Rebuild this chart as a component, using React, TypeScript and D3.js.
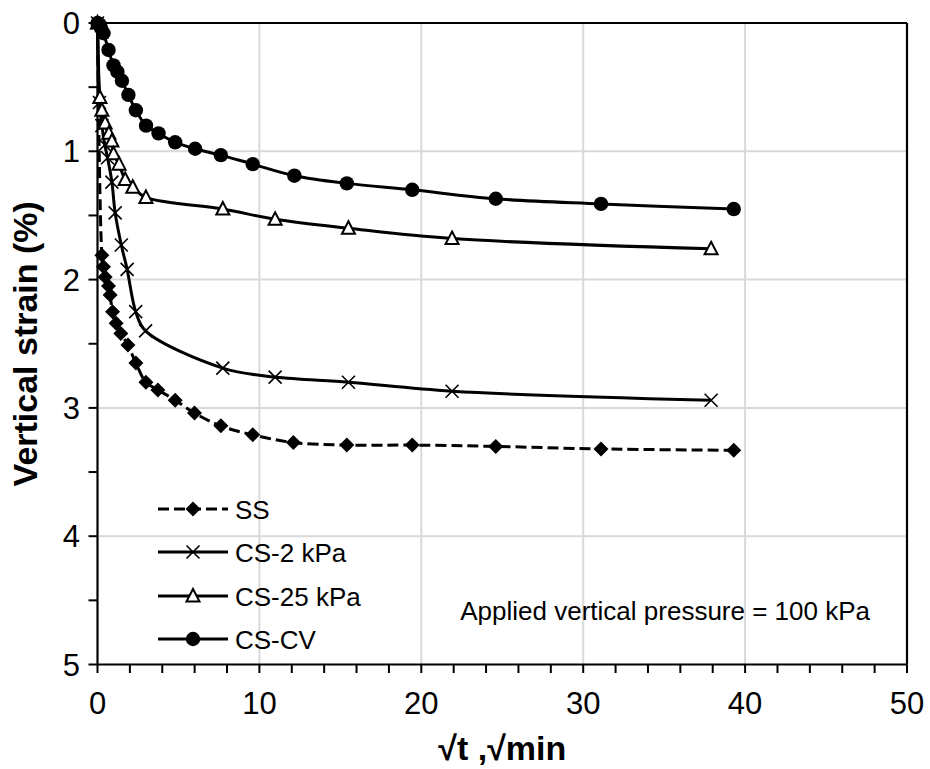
import React from "react";
import * as d3 from "d3";

// ---- data (x = sqrt(t) in sqrt(min), y = vertical strain %) ----
const ssX = [0, 0.27, 0.37, 0.47, 0.68, 0.78, 0.93, 1.15, 1.44, 1.88, 2.37, 2.99, 3.73, 4.8, 5.99, 7.62, 9.59, 12.1, 15.4, 19.44, 24.6, 31.1, 39.3];
const ssY = [0, 1.81, 1.9, 1.98, 2.05, 2.12, 2.25, 2.34, 2.42, 2.51, 2.65, 2.8, 2.86, 2.94, 3.04, 3.14, 3.21, 3.27, 3.29, 3.29, 3.3, 3.32, 3.33];

const cs2X = [0, 0.12, 0.27, 0.45, 0.62, 0.89, 1.09, 1.47, 1.83, 2.36, 2.97, 7.74, 10.97, 15.5, 21.9, 37.9];
const cs2Y = [0, 0.62, 0.8, 0.95, 1.05, 1.24, 1.48, 1.73, 1.92, 2.25, 2.4, 2.69, 2.76, 2.8, 2.87, 2.94];

const cs25X = [0, 0.15, 0.27, 0.47, 0.7, 0.89, 0.99, 1.33, 1.71, 2.18, 2.99, 7.74, 10.97, 15.5, 21.9, 37.9];
const cs25Y = [0, 0.58, 0.68, 0.78, 0.86, 0.92, 1.02, 1.1, 1.22, 1.28, 1.36, 1.45, 1.53, 1.6, 1.68, 1.76];

const cvX = [0, 0.12, 0.22, 0.37, 0.68, 0.99, 1.23, 1.51, 1.91, 2.37, 3.0, 3.77, 4.8, 6.03, 7.62, 9.59, 12.16, 15.4, 19.44, 24.6, 31.1, 39.3];
const cvY = [0, 0.01, 0.04, 0.08, 0.21, 0.33, 0.38, 0.45, 0.56, 0.68, 0.8, 0.86, 0.93, 0.98, 1.03, 1.1, 1.19, 1.25, 1.3, 1.37, 1.41, 1.45];

const seriesNames = ["SS", "CS-2 kPa", "CS-25 kPa", "CS-CV"];
const xTicks = [0, 10, 20, 30, 40, 50];
const yTicks = [0, 1, 2, 3, 4, 5];
const xTitle = "√t ,√min";
const yTitle = "Vertical strain (%)";
const note = "Applied vertical pressure = 100 kPa";

type Kind = "diamond" | "cross" | "triangle" | "circle";
const series: { name: string; xs: number[]; ys: number[]; kind: Kind; dash?: string }[] = [
  { name: seriesNames[0], xs: ssX, ys: ssY, kind: "diamond", dash: "11,5" },
  { name: seriesNames[1], xs: cs2X, ys: cs2Y, kind: "cross" },
  { name: seriesNames[2], xs: cs25X, ys: cs25Y, kind: "triangle" },
  { name: seriesNames[3], xs: cvX, ys: cvY, kind: "circle" },
];

const FONT = "'Liberation Sans', Arial, Helvetica, sans-serif";

function Marker({ kind, cx, cy }: { kind: Kind; cx: number; cy: number }) {
  if (kind === "circle") return <circle cx={cx} cy={cy} r={7.2} fill="#000" />;
  if (kind === "diamond") {
    const s = 7.5;
    return <path d={`M${cx},${cy - s}L${cx + s},${cy}L${cx},${cy + s}L${cx - s},${cy}Z`} fill="#000" />;
  }
  if (kind === "triangle") {
    const w = 6.5;
    return (
      <path
        d={`M${cx},${cy - 7}L${cx + w},${cy + 5.5}L${cx - w},${cy + 5.5}Z`}
        fill="#fff"
        stroke="#000"
        strokeWidth={2}
      />
    );
  }
  const c = 6.5;
  return (
    <path
      d={`M${cx - c},${cy - c}L${cx + c},${cy + c}M${cx - c},${cy + c}L${cx + c},${cy - c}`}
      stroke="#000"
      strokeWidth={1.6}
      fill="none"
    />
  );
}

export default function App() {
  const W = 930;
  const H = 769;
  const L = 97.5, R = 907, T = 23, B = 664.5;
  const x = d3.scaleLinear().domain([0, 50]).range([L, R]);
  const y = d3.scaleLinear().domain([0, 5]).range([T, B]);

  const line = d3
    .line<[number, number]>()
    .x((d) => x(d[0]))
    .y((d) => y(d[1]))
    .curve(d3.curveCatmullRom.alpha(0.5));

  const xMinor = d3.range(0, 50.001, 2);
  const yMinor = d3.range(0, 5.001, 0.5);

  const legendY = [509, 552, 596, 639];

  return (
    <svg
      width={W}
      height={H}
      style={{ position: "absolute", left: 0, top: 0, background: "#fff" }}
      fontFamily={FONT}
    >
      <rect x={0} y={0} width={W} height={H} fill="#fff" />
      {/* grid */}
      {xTicks.slice(1, -1).map((t) => (
        <line key={"gx" + t} x1={x(t)} x2={x(t)} y1={T} y2={B} stroke="#d9d9d9" strokeWidth={2} />
      ))}
      {yTicks.slice(1, -1).map((t) => (
        <line key={"gy" + t} x1={L} x2={R} y1={y(t)} y2={y(t)} stroke="#d9d9d9" strokeWidth={2} />
      ))}
      {/* frame */}
      <line x1={L} x2={R} y1={T} y2={T} stroke="#000" strokeWidth={2.2} />
      <line x1={R} x2={R} y1={T} y2={B} stroke="#000" strokeWidth={2.2} />
      <line x1={L} x2={L} y1={T} y2={B} stroke="#000" strokeWidth={2.2} />
      <line x1={L} x2={R} y1={B} y2={B} stroke="#000" strokeWidth={2.2} />
      {/* ticks */}
      {xMinor.map((t) => (
        <line key={"tx" + t} x1={x(t)} x2={x(t)} y1={B} y2={B + 8.5} stroke="#000" strokeWidth={2} />
      ))}
      {yMinor.map((t) => (
        <line key={"ty" + t} x1={L - 9} x2={L} y1={y(t)} y2={y(t)} stroke="#000" strokeWidth={2} />
      ))}
      {/* tick labels */}
      {xTicks.map((t) => (
        <text key={"lx" + t} x={x(t)} y={714} textAnchor="middle" fontSize={31} fill="#000">
          {t}
        </text>
      ))}
      {yTicks.map((t) => (
        <text key={"ly" + t} x={80} y={y(t) + 11} textAnchor="end" fontSize={31} fill="#000">
          {t}
        </text>
      ))}
      {/* axis titles */}
      <text x={(L + R) / 2} y={760} textAnchor="middle" fontSize={34} fontWeight="bold" fill="#000">
        {xTitle}
      </text>
      <text
        transform={`translate(37,${(T + B) / 2}) rotate(-90)`}
        textAnchor="middle"
        fontSize={34}
        fontWeight="bold"
        fill="#000"
      >
        {yTitle}
      </text>
      {/* series */}
      {series.map((s) => {
        const pts = s.xs.map((v, i) => [v, s.ys[i]] as [number, number]);
        return (
          <g key={s.name}>
            <path d={line(pts) || ""} fill="none" stroke="#000" strokeWidth={3} strokeDasharray={s.dash} />
            {pts.map((p, i) => (
              <Marker key={i} kind={s.kind} cx={x(p[0])} cy={y(p[1])} />
            ))}
          </g>
        );
      })}
      {/* legend */}
      {series.map((s, i) => (
        <g key={"lg" + s.name}>
          <line x1={158} x2={228} y1={legendY[i]} y2={legendY[i]} stroke="#000" strokeWidth={3} strokeDasharray={s.dash} />
          <Marker kind={s.kind} cx={193} cy={legendY[i]} />
          <text x={235} y={legendY[i] + 9.5} fontSize={26} fill="#000">
            {s.name}
          </text>
        </g>
      ))}
      {/* note */}
      <text x={870} y={620} textAnchor="end" fontSize={26} fill="#000">
        {note}
      </text>
    </svg>
  );
}
